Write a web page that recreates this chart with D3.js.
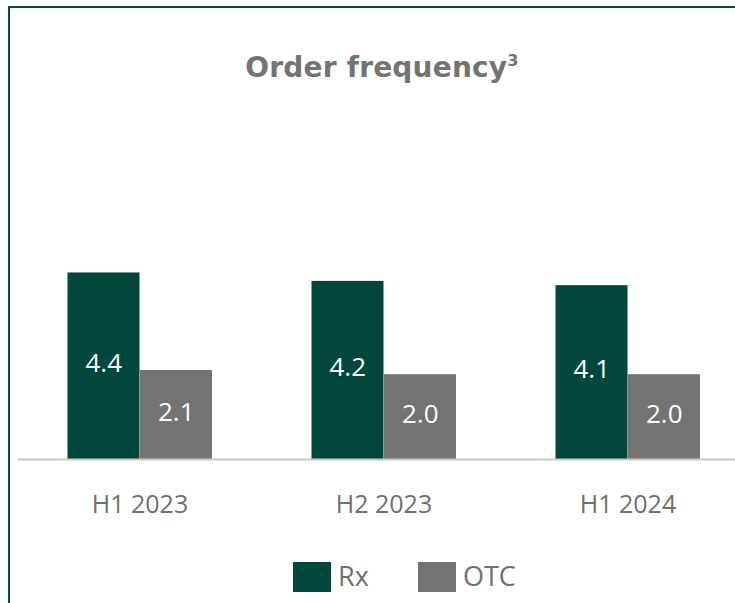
<!DOCTYPE html>
<html>
<head>
<meta charset="utf-8">
<script src="https://cdn.jsdelivr.net/npm/d3@7"></script>
<style>
  html, body { margin: 0; padding: 0; background: #fff; }
  svg { display: block; }
</style>
</head>
<body>
<svg id="chart" width="735" height="603"></svg>
<script>
// Order frequency by half-year, Rx vs OTC
const categories = ["H1 2023", "H2 2023", "H1 2024"];
const seriesNames = ["Rx", "OTC"];
const rxValues = [4.4, 4.2, 4.1];
const otcValues = [2.1, 2.0, 2.0];
const valueLabels = [["4.4", "2.1"], ["4.2", "2.0"], ["4.1", "2.0"]];

const colors = { Rx: "#02473b", OTC: "#737373" };
const textGrey = "#6f6f6f";

const svg = d3.select("#chart");
const W = 735, H = 603;

// Frame: dark green line on the top and left edges
svg.append("path")
  .attr("d", `M9,${H} V7 H${W}`)
  .attr("fill", "none")
  .attr("stroke", "#0b4a3f")
  .attr("stroke-width", 2);

// Title
const title = svg.append("text")
  .attr("x", 382)
  .attr("y", 77)
  .attr("text-anchor", "middle")
  .attr("font-family", "'DejaVu Sans', sans-serif")
  .attr("font-weight", 700)
  .attr("font-size", 28)
  .attr("letter-spacing", 0.2)
  .attr("fill", "#737373");
title.append("tspan").text("Order frequency");
title.append("tspan").text("3")
  .attr("font-size", 16)
  .attr("dy", -11);

// Scales
const baseline = 459;
const x0 = d3.scaleBand().domain(categories).range([18, 750]).paddingInner(0).paddingOuter(0);
const x1 = d3.scaleBand().domain(seriesNames).range([0, 145]);
const y = d3.scaleLinear().domain([0, 5]).range([baseline, baseline - 5 * 42.4]);

const data = categories.map((c, i) => ({
  cat: c,
  vals: [
    { key: "Rx", v: rxValues[i], label: valueLabels[i][0] },
    { key: "OTC", v: otcValues[i], label: valueLabels[i][1] }
  ]
}));

const groups = svg.append("g").selectAll("g")
  .data(data).join("g")
  .attr("transform", d => `translate(${x0(d.cat) + (x0.bandwidth() - 145) / 2},0)`);

groups.selectAll("rect")
  .data(d => d.vals).join("rect")
  .attr("x", d => x1(d.key))
  .attr("y", d => y(d.v))
  .attr("width", x1.bandwidth() - 0.5)
  .attr("height", d => y(0) - y(d.v))
  .attr("fill", d => colors[d.key]);

groups.selectAll("text.val")
  .data(d => d.vals).join("text")
  .attr("class", "val")
  .attr("x", d => x1(d.key) + x1.bandwidth() / 2)
  .attr("y", d => (y(d.v) + y(0)) / 2 - 3)
  .attr("dy", "0.35em")
  .attr("text-anchor", "middle")
  .attr("font-family", "'Open Sans', sans-serif")
  .attr("font-size", 26)
  .attr("fill", "#ffffff")
  .text(d => d.label);

// Baseline axis
const xAxis = d3.axisBottom(x0).tickSize(0).tickPadding(36);
const ax = svg.append("g")
  .attr("transform", `translate(0,${baseline})`)
  .call(xAxis);
ax.select(".domain").remove();
ax.append("line")
  .attr("x1", 18).attr("x2", W)
  .attr("y1", 0.5).attr("y2", 0.5)
  .attr("stroke", "#c8c8c8")
  .attr("stroke-width", 2);
ax.selectAll(".tick text")
  .attr("font-family", "'Open Sans', sans-serif")
  .attr("font-size", 25)
  .attr("fill", textGrey);

// Legend
const legend = svg.append("g");
const legendItems = [
  { key: "Rx", x: 293 },
  { key: "OTC", x: 418 }
];
legendItems.forEach(it => {
  legend.append("rect")
    .attr("x", it.x).attr("y", 562)
    .attr("width", 38).attr("height", 30)
    .attr("fill", colors[it.key]);
  legend.append("text")
    .attr("x", it.x + 45).attr("y", 577)
    .attr("dy", "0.35em")
    .attr("font-family", "'Open Sans', sans-serif")
    .attr("font-size", 27)
    .attr("fill", textGrey)
    .text(it.key);
});
</script>
</body>
</html>
